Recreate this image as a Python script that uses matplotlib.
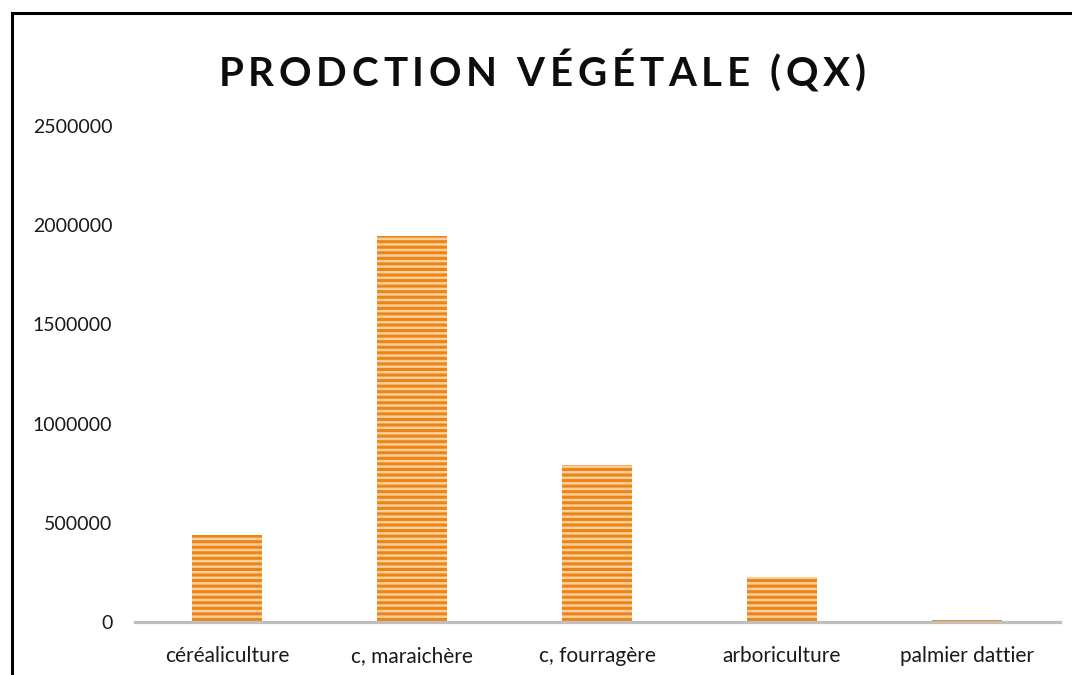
import matplotlib

matplotlib.use("Agg")
import matplotlib.pyplot as plt
from matplotlib.lines import Line2D

categories = ["céréaliculture", "c, maraichère", "c, fourragère", "arboriculture", "palmier dattier"]
production = [438000, 1945000, 791000, 228000, 10000]
yticks = [0, 500000, 1000000, 1500000, 2000000, 2500000]
title = "PRODCTION VÉGÉTALE (QX)"

C_FACE = "#f9cf9e"
C_STRIPE = "#ec8416"
C_AXIS = "#bfbfbf"

plt.rcParams["font.family"] = ["Lato", "DejaVu Sans"]
plt.rcParams["hatch.linewidth"] = 2.2
plt.rcParams["hatch.color"] = C_STRIPE

W, H = 1072, 675
fig = plt.figure(figsize=(W / 100, H / 100), dpi=100)
ax = fig.add_axes([134.5 / W, 1 - 622 / H, 925 / W, 496 / H])

x = range(len(categories))
ax.bar(list(x), production, width=0.38, color=C_FACE, edgecolor=C_STRIPE,
       linewidth=0, hatch="---")
ax.set_xlim(-0.5, len(categories) - 0.5)
ax.set_ylim(0, 2500000)
ax.set_yticks(yticks)
ax.set_yticklabels([str(v) for v in yticks], fontsize=14, color="#1a1a1a")
ax.set_xticks(list(x))
ax.set_xticklabels(categories, fontsize=15, color="#1a1a1a")
ax.tick_params(axis="both", length=0)
ax.tick_params(axis="y", pad=16)
ax.tick_params(axis="x", pad=17)
for side in ("top", "right", "left"):
    ax.spines[side].set_visible(False)
ax.spines["bottom"].set_color(C_AXIS)
ax.spines["bottom"].set_linewidth(2.3)

# titre avec espacement des lettres
renderer = fig.canvas.get_renderer()
spacing = 4.8
chars = []
for ch in title:
    t = fig.text(0, 1 - 74 / H, ch, ha="left", va="center", fontsize=29,
                 fontweight="bold", color="#0d0d0d")
    chars.append(t)
widths = []
for t in chars:
    if t.get_text() == " ":
        widths.append(10.0)
    else:
        widths.append(t.get_window_extent(renderer).width)
total = sum(widths) + spacing * (len(chars) - 1)
xpos = 542 - total / 2
for t, w in zip(chars, widths):
    t.set_x(xpos / W)
    xpos += w + spacing

# cadre noir (bords gauche et haut visibles)
fig.add_artist(Line2D([12 / W, 12 / W], [0, 1 - 13 / H], color="black", linewidth=2.2,
                      transform=fig.transFigure))
fig.add_artist(Line2D([12 / W, 1], [1 - 13 / H, 1 - 13 / H], color="black", linewidth=2.2,
                      transform=fig.transFigure))

fig.savefig("out.png", dpi=100)
